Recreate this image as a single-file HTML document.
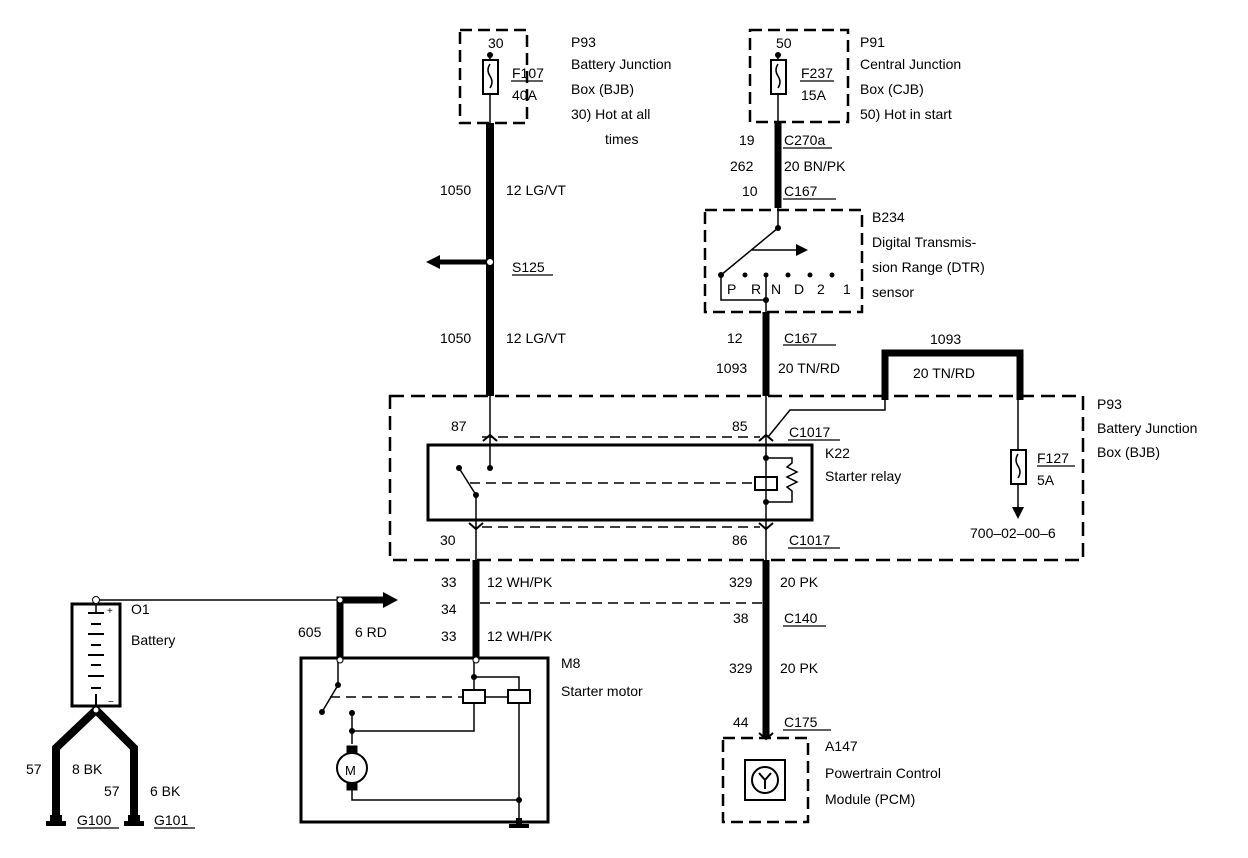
<!DOCTYPE html>
<html><head><style>body{margin:0;background:#fff}svg{display:block}text{font-family:"Liberation Sans",sans-serif;font-size:14px;fill:#000}</style></head><body>
<svg width="1248" height="858" viewBox="0 0 1248 858" xmlns="http://www.w3.org/2000/svg">
<defs><marker id="ah" markerWidth="8" markerHeight="8" refX="6" refY="4" orient="auto"><path d="M0,0 L8,4 L0,8z" fill="#000"/></marker></defs>
<g fill="none" stroke="#000">
<rect x="460" y="30" width="67" height="93" stroke-width="2.5" stroke-dasharray="12,6"/>
<line x1="490" y1="55" x2="490" y2="60" stroke-width="1.5"/>
<rect x="483" y="60" width="15" height="34" stroke-width="2"/>
<path d="M490,64 q-4,6 0,12 q4,6 0,12" stroke-width="1.5"/>
<line x1="490" y1="94" x2="490" y2="123" stroke-width="1.5"/>
<line x1="490" y1="123" x2="490" y2="396" stroke-width="8"/>
<line x1="490" y1="262" x2="440" y2="262" stroke-width="5"/>
<line x1="490" y1="396" x2="490" y2="468" stroke-width="1.5"/>
<rect x="750" y="30" width="98" height="92" stroke-width="2.5" stroke-dasharray="12,6"/>
<line x1="778" y1="55" x2="778" y2="60" stroke-width="1.5"/>
<rect x="771" y="60" width="15" height="34" stroke-width="2"/>
<path d="M778,64 q-4,6 0,12 q4,6 0,12" stroke-width="1.5"/>
<line x1="778" y1="94" x2="778" y2="122" stroke-width="1.5"/>
<line x1="778" y1="122" x2="778" y2="208" stroke-width="7"/>
<rect x="705" y="210" width="157" height="102" stroke-width="2.5" stroke-dasharray="12,6"/>
<path d="M778,208 L778,228 L721,275 L721,300 L766,300 L766,312" stroke-width="1.5"/>
<line x1="752" y1="250" x2="805" y2="250" stroke-width="1.5" marker-end="url(#ah)"/>
<line x1="766" y1="275" x2="766" y2="300" stroke-width="1.5"/>
<line x1="766" y1="312" x2="766" y2="396" stroke-width="7"/>
<path d="M885,400 L885,353 L1020,353 L1020,400" stroke-width="7"/>
<path d="M885,400 L885,410 L790,410 L768,437" stroke-width="1.5"/>
<line x1="1018" y1="400" x2="1018" y2="450" stroke-width="1.5"/>
<rect x="1011" y="450" width="15" height="34" stroke-width="2"/>
<path d="M1018,454 q-4,6 0,12 q4,6 0,12" stroke-width="1.5"/>
<line x1="1018" y1="484" x2="1018" y2="516" stroke-width="1.5" marker-end="url(#ah)"/>
<rect x="390" y="396" width="693" height="164" stroke-width="2.5" stroke-dasharray="14,7"/>
<line x1="482" y1="437" x2="760" y2="437" stroke-width="1.5" stroke-dasharray="10,6"/>
<line x1="482" y1="527" x2="760" y2="527" stroke-width="1.5" stroke-dasharray="10,6"/>
<rect x="428" y="445" width="384" height="75" stroke-width="3"/>
<line x1="459" y1="468" x2="476" y2="495" stroke-width="1.5"/>
<line x1="476" y1="495" x2="476" y2="560" stroke-width="1.5"/>
<line x1="470" y1="483" x2="755" y2="483" stroke-width="1.5" stroke-dasharray="10,6"/>
<line x1="766" y1="396" x2="766" y2="560" stroke-width="1.5"/>
<rect x="755" y="477" width="22" height="13" stroke-width="2"/>
<path d="M766,458 L792,458 L792,463 l-5,4 l10,5 l-10,5 l10,5 l-10,5 l5,4 L792,502 L766,502" stroke-width="1.5"/>
<path d="M483,441 l7,-6 l7,6 M759,441 l7,-6 l7,6 M469,523 l7,6 l7,-6 M759,523 l7,6 l7,-6" stroke-width="2"/>
<line x1="476" y1="560" x2="476" y2="660" stroke-width="7"/>
<line x1="766" y1="560" x2="766" y2="737" stroke-width="7"/>
<line x1="480" y1="603" x2="762" y2="603" stroke-width="1.5" stroke-dasharray="10,6"/>
<line x1="96" y1="600" x2="340" y2="600" stroke-width="1.5"/>
<path d="M340,660 L340,600 L385,600" stroke-width="7"/>
<rect x="72" y="604" width="48" height="102" stroke-width="3"/>
<line x1="96" y1="600" x2="96" y2="612" stroke-width="1.5"/>
<g stroke-width="2"><line x1="88" y1="613" x2="104" y2="613"/><line x1="91" y1="624" x2="101" y2="624"/><line x1="88" y1="634" x2="104" y2="634"/><line x1="91" y1="645" x2="101" y2="645"/><line x1="88" y1="655" x2="104" y2="655"/><line x1="91" y1="665" x2="101" y2="665"/><line x1="88" y1="676" x2="104" y2="676"/><line x1="91" y1="688" x2="101" y2="688"/><line x1="96" y1="694" x2="96" y2="706"/></g>
<path d="M96,710 L56,748 L56,815 M96,710 L134,748 L134,815" stroke-width="8"/>
<rect x="301" y="658" width="247" height="164" stroke-width="3"/>
<path d="M338,660 L338,685 L322,712" stroke-width="1.5"/>
<line x1="330" y1="697" x2="462" y2="697" stroke-width="1.5" stroke-dasharray="10,6"/>
<path d="M474,660 L474,677 L519,677 L519,690 M474,677 L474,690" stroke-width="1.5"/>
<rect x="463" y="690" width="22" height="13" stroke-width="2"/>
<rect x="508" y="690" width="22" height="13" stroke-width="2"/>
<line x1="485" y1="697" x2="508" y2="697" stroke-width="1.5"/>
<path d="M474,703 L474,731 L352,731 M352,713 L352,744 M352,790 L352,800 L519,800 M519,703 L519,822" stroke-width="1.5"/>
<circle cx="352" cy="768" r="15" stroke-width="2"/>
<rect x="347" y="746" width="10" height="7" fill="#000"/><rect x="347" y="783" width="10" height="7" fill="#000"/>
<rect x="723" y="738" width="85" height="84" stroke-width="2.5" stroke-dasharray="12,6"/>
<rect x="745" y="760" width="40" height="40" stroke-width="2"/>
<circle cx="765" cy="780" r="13" stroke-width="2"/>
<path d="M759,773 l6,7 l6,-7 M765,780 l0,9" stroke-width="2"/>
<path d="M759,733 l7,6 l7,-6" stroke-width="2"/>
<g stroke-width="1.2"><line x1="511" y1="81" x2="543" y2="81"/><line x1="800" y1="81" x2="834" y2="81"/><line x1="783" y1="148" x2="832" y2="148"/><line x1="783" y1="199" x2="836" y2="199"/><line x1="512" y1="275" x2="553" y2="275"/><line x1="783" y1="345" x2="836" y2="345"/><line x1="788" y1="440" x2="840" y2="440"/><line x1="788" y1="548" x2="840" y2="548"/><line x1="1037" y1="466" x2="1075" y2="466"/><line x1="783" y1="626" x2="826" y2="626"/><line x1="783" y1="730" x2="831" y2="730"/><line x1="77" y1="828" x2="119" y2="828"/><line x1="154" y1="828" x2="195" y2="828"/></g>
</g>
<g fill="#000">
<path d="M440,255 L426,262 L440,269z"/>
<path d="M383,592 L398,600 L383,608z"/>
<circle cx="490" cy="55" r="3"/><circle cx="778" cy="55" r="3"/><circle cx="490" cy="262" r="3.5" fill="#fff" stroke="#000"/>
<circle cx="778" cy="228" r="3"/><circle cx="721" cy="275" r="3"/><circle cx="745" cy="275" r="2.5"/><circle cx="766" cy="275" r="2.5"/><circle cx="788" cy="275" r="2.5"/><circle cx="810" cy="275" r="2.5"/><circle cx="832" cy="275" r="2.5"/><circle cx="766" cy="300" r="3"/>
<circle cx="490" cy="468" r="3"/><circle cx="459" cy="468" r="3"/><circle cx="476" cy="495" r="3"/><circle cx="766" cy="458" r="3"/><circle cx="766" cy="502" r="3"/>
<circle cx="96" cy="600" r="3.5" fill="#fff" stroke="#000"/><circle cx="340" cy="600" r="3" fill="#fff" stroke="#000"/><circle cx="340" cy="660" r="3" fill="#fff" stroke="#000"/><circle cx="476" cy="660" r="3" fill="#fff" stroke="#000"/><circle cx="96" cy="710" r="3" fill="#fff" stroke="#000"/>
<circle cx="338" cy="685" r="3"/><circle cx="322" cy="712" r="3"/><circle cx="474" cy="677" r="3"/><circle cx="352" cy="713" r="3"/><circle cx="352" cy="731" r="3"/><circle cx="519" cy="800" r="3"/>
<rect x="50" y="815" width="12" height="6"/><rect x="46" y="821" width="20" height="5"/>
<rect x="128" y="815" width="12" height="6"/><rect x="124" y="821" width="20" height="5"/>
<rect x="516" y="818" width="6" height="6"/><rect x="509" y="824" width="20" height="4"/>
</g>
<g>
<text x="488" y="48">30</text><text x="512" y="78">F107</text><text x="512" y="100">40A</text>
<text x="571" y="47">P93</text><text x="571" y="69">Battery Junction</text><text x="571" y="94">Box (BJB)</text><text x="571" y="119">30)  Hot at all</text><text x="605" y="144">times</text>
<text x="776" y="48">50</text><text x="801" y="78">F237</text><text x="801" y="100">15A</text>
<text x="860" y="47">P91</text><text x="860" y="69">Central Junction</text><text x="860" y="94">Box (CJB)</text><text x="860" y="119">50)  Hot in start</text>
<text x="739" y="145">19</text><text x="784" y="145">C270a</text><text x="730" y="171">262</text><text x="784" y="171">20 BN/PK</text><text x="742" y="196">10</text><text x="784" y="196">C167</text>
<text x="872" y="222">B234</text><text x="872" y="247">Digital Transmis-</text><text x="872" y="272">sion Range (DTR)</text><text x="872" y="297">sensor</text>
<text x="727" y="294">P</text><text x="751" y="294">R</text><text x="771" y="294">N</text><text x="794" y="294">D</text><text x="817" y="294">2</text><text x="843" y="294">1</text>
<text x="440" y="195">1050</text><text x="506" y="195">12 LG/VT</text><text x="512" y="272">S125</text>
<text x="440" y="343">1050</text><text x="506" y="343">12 LG/VT</text>
<text x="727" y="343">12</text><text x="784" y="343">C167</text><text x="716" y="373">1093</text><text x="778" y="373">20 TN/RD</text>
<text x="930" y="344">1093</text><text x="913" y="378">20 TN/RD</text>
<text x="1097" y="409">P93</text><text x="1097" y="433">Battery Junction</text><text x="1097" y="457">Box (BJB)</text>
<text x="1037" y="463">F127</text><text x="1037" y="485">5A</text><text x="970" y="538">700–02–00–6</text>
<text x="451" y="431">87</text><text x="732" y="431">85</text><text x="789" y="437">C1017</text><text x="825" y="458">K22</text><text x="825" y="481">Starter relay</text>
<text x="440" y="545">30</text><text x="732" y="545">86</text><text x="789" y="545">C1017</text>
<text x="441" y="587">33</text><text x="487" y="587">12 WH/PK</text><text x="729" y="587">329</text><text x="780" y="587">20 PK</text>
<text x="441" y="614">34</text><text x="733" y="623">38</text><text x="784" y="623">C140</text>
<text x="441" y="641">33</text><text x="487" y="641">12 WH/PK</text><text x="298" y="637">605</text><text x="355" y="637">6 RD</text>
<text x="131" y="614">O1</text><text x="131" y="645">Battery</text>
<text x="561" y="668">M8</text><text x="561" y="696">Starter motor</text>
<text x="729" y="673">329</text><text x="780" y="673">20 PK</text>
<text x="733" y="727">44</text><text x="784" y="727">C175</text>
<text x="825" y="751">A147</text><text x="825" y="778">Powertrain Control</text><text x="825" y="804">Module (PCM)</text>
<text x="26" y="774">57</text><text x="72" y="774">8 BK</text><text x="104" y="796">57</text><text x="150" y="796">6 BK</text>
<text x="77" y="825">G100</text><text x="154" y="825">G101</text>
<text x="345" y="775" style="font-size:13px">M</text>
<text x="107" y="614" style="font-size:10px">+</text><text x="108" y="705" style="font-size:10px">−</text>
</g>
</svg>
</body></html>
